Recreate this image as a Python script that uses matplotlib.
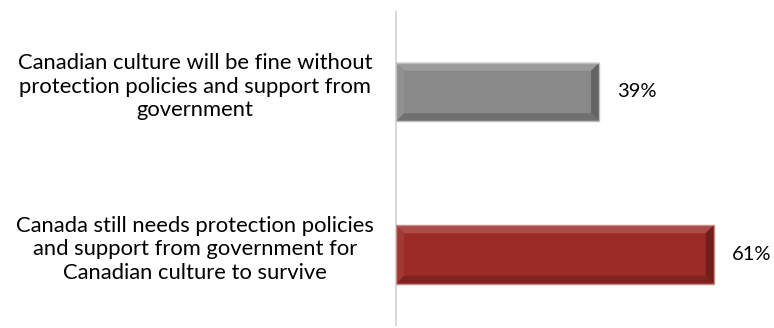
import matplotlib
matplotlib.use("Agg")
import matplotlib.pyplot as plt
from matplotlib.patches import Polygon
import matplotlib.colors as mcolors

categories = [
    "Canada still needs protection policies\nand support from government for\nCanadian culture to survive",
    "Canadian culture will be fine without\nprotection policies and support from\ngovernment",
]
values = [61, 39]
value_labels = ["61%", "39%"]
colors = ["#9c2b27", "#898989"]

plt.rcParams['font.family'] = ['Lato', 'DejaVu Sans']

W, H, DPI = 774, 328, 100
fig = plt.figure(figsize=(W / DPI, H / DPI), dpi=DPI)
ax = fig.add_axes([396 / W, 3 / H, (771 - 396) / W, (325 - 12) / H])

ypos = [0, 1]
bars = ax.barh(ypos, values, height=0.36, color=colors, zorder=2)
ax.set_xlim(0, 72)
ax.set_ylim(-0.434, 1.492)


def shade(c, f):
    r, g, b = mcolors.to_rgb(c)
    if f > 0:
        return (r + (1 - r) * f, g + (1 - g) * f, b + (1 - b) * f)
    return (r * (1 + f), g * (1 + f), b * (1 + f))


fig.canvas.draw()
inv = ax.transData.inverted()
for bar, c in zip(bars, colors):
    x0, y0 = bar.get_x(), bar.get_y()
    w, h = bar.get_width(), bar.get_height()
    p0 = inv.transform((0, 0))
    p1 = inv.transform((8, 8))
    bx = p1[0] - p0[0]
    by = p1[1] - p0[1]
    x1, y1 = x0 + w, y0 + h
    top = [(x0, y1), (x1, y1), (x1 - bx, y1 - by), (x0 + bx, y1 - by)]
    bot = [(x0, y0), (x1, y0), (x1 - bx, y0 + by), (x0 + bx, y0 + by)]
    left = [(x0, y0), (x0, y1), (x0 + bx, y1 - by), (x0 + bx, y0 + by)]
    right = [(x1, y0), (x1, y1), (x1 - bx, y1 - by), (x1 - bx, y0 + by)]
    ax.add_patch(Polygon(top, closed=True, color=shade(c, 0.15), lw=0, zorder=3))
    ax.add_patch(Polygon(bot, closed=True, color=shade(c, -0.18), lw=0, zorder=3))
    ax.add_patch(Polygon(left, closed=True, color=shade(c, 0.06), lw=0, zorder=3))
    ax.add_patch(Polygon(right, closed=True, color=shade(c, -0.28), lw=0, zorder=3))
    ax.add_patch(plt.Rectangle((x0, y0), w, h, fill=False, ec=shade(c, 0.45), lw=1, zorder=4))

for y, v, lab in zip(ypos, values, value_labels):
    ax.annotate(lab, (v, y), xytext=(18 * 72 / DPI, 0), textcoords='offset points',
                ha='left', va='center', fontsize=14.5, color='#000000')

for y, cat in zip(ypos, categories):
    ax.annotate(cat, (0, y), xytext=(-201 * 72 / DPI, 5 * 72 / DPI), textcoords='offset points',
                ha='center', va='center', multialignment='center', fontsize=15.8,
                linespacing=1.22, color='#000000', annotation_clip=False)

for s in ['top', 'right', 'bottom']:
    ax.spines[s].set_visible(False)
ax.spines['left'].set_color('#d9d9d9')
ax.spines['left'].set_linewidth(1.5)
ax.set_xticks([])
ax.set_yticks([])

fig.savefig("out.png", dpi=DPI)
